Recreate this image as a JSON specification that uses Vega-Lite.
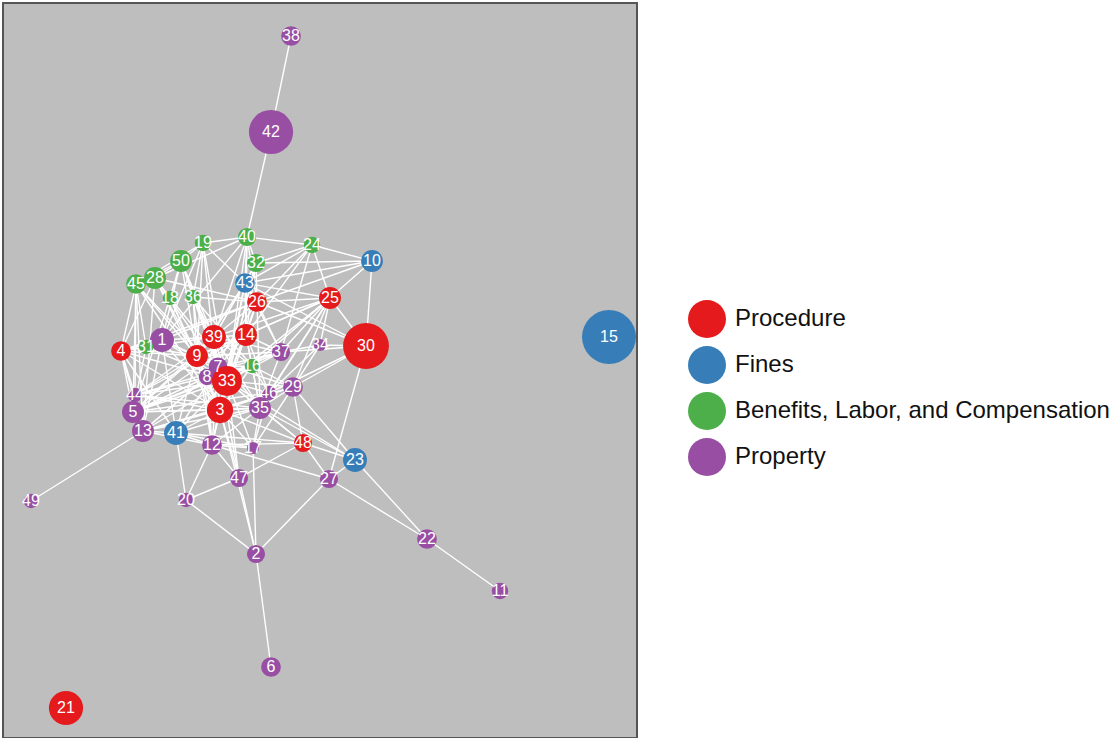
{
  "$schema": "https://vega.github.io/schema/vega-lite/v6.json",
  "width": 634,
  "height": 735,
  "padding": {"left": 3, "top": 3, "right": 0, "bottom": 0},
  "background": "white",
  "config": {
    "view": {"fill": "#bebebe", "stroke": "#555555", "strokeWidth": 2},
    "font": "Liberation Sans"
  },
  "datasets": {
    "nodes": [
      {"id": 1, "x": 162, "y": 340, "cases": 19, "area": "Property"},
      {"id": 2, "x": 256, "y": 554, "cases": 11, "area": "Property"},
      {"id": 3, "x": 220, "y": 410, "cases": 23, "area": "Procedure"},
      {"id": 4, "x": 121, "y": 351, "cases": 13, "area": "Procedure"},
      {"id": 5, "x": 133, "y": 412, "cases": 16, "area": "Property"},
      {"id": 6, "x": 271, "y": 667, "cases": 13, "area": "Property"},
      {"id": 7, "x": 218, "y": 367, "cases": 12, "area": "Property"},
      {"id": 8, "x": 207, "y": 377, "cases": 9, "area": "Property"},
      {"id": 9, "x": 197, "y": 356, "cases": 16, "area": "Procedure"},
      {"id": 10, "x": 372, "y": 261, "cases": 16, "area": "Fines"},
      {"id": 11, "x": 500, "y": 591, "cases": 9, "area": "Property"},
      {"id": 12, "x": 212, "y": 445, "cases": 13, "area": "Property"},
      {"id": 13, "x": 143, "y": 431, "cases": 16, "area": "Property"},
      {"id": 14, "x": 246, "y": 335, "cases": 16, "area": "Procedure"},
      {"id": 15, "x": 609, "y": 337, "cases": 97, "area": "Fines"},
      {"id": 16, "x": 252, "y": 366, "cases": 7, "area": "Benefits, Labor, and Compensation"},
      {"id": 17, "x": 253, "y": 448, "cases": 5, "area": "Property"},
      {"id": 18, "x": 170, "y": 298, "cases": 7, "area": "Benefits, Labor, and Compensation"},
      {"id": 19, "x": 203, "y": 243, "cases": 9, "area": "Benefits, Labor, and Compensation"},
      {"id": 20, "x": 186, "y": 500, "cases": 7, "area": "Property"},
      {"id": 21, "x": 66, "y": 708, "cases": 39, "area": "Procedure"},
      {"id": 22, "x": 427, "y": 539, "cases": 13, "area": "Property"},
      {"id": 23, "x": 355, "y": 460, "cases": 19, "area": "Fines"},
      {"id": 24, "x": 312, "y": 245, "cases": 9, "area": "Benefits, Labor, and Compensation"},
      {"id": 25, "x": 330, "y": 298, "cases": 16, "area": "Procedure"},
      {"id": 26, "x": 257, "y": 302, "cases": 13, "area": "Procedure"},
      {"id": 27, "x": 329, "y": 479, "cases": 11, "area": "Property"},
      {"id": 28, "x": 155, "y": 278, "cases": 16, "area": "Benefits, Labor, and Compensation"},
      {"id": 29, "x": 293, "y": 387, "cases": 13, "area": "Property"},
      {"id": 30, "x": 366, "y": 346, "cases": 70, "area": "Procedure"},
      {"id": 31, "x": 146, "y": 347, "cases": 7, "area": "Benefits, Labor, and Compensation"},
      {"id": 32, "x": 256, "y": 263, "cases": 11, "area": "Benefits, Labor, and Compensation"},
      {"id": 33, "x": 227, "y": 381, "cases": 30, "area": "Procedure"},
      {"id": 34, "x": 320, "y": 345, "cases": 5, "area": "Property"},
      {"id": 35, "x": 260, "y": 408, "cases": 16, "area": "Property"},
      {"id": 36, "x": 193, "y": 297, "cases": 7, "area": "Benefits, Labor, and Compensation"},
      {"id": 37, "x": 281, "y": 352, "cases": 11, "area": "Property"},
      {"id": 38, "x": 291, "y": 36, "cases": 13, "area": "Property"},
      {"id": 39, "x": 214, "y": 337, "cases": 19, "area": "Procedure"},
      {"id": 40, "x": 247, "y": 237, "cases": 11, "area": "Benefits, Labor, and Compensation"},
      {"id": 41, "x": 176, "y": 433, "cases": 19, "area": "Fines"},
      {"id": 42, "x": 271, "y": 132, "cases": 65, "area": "Property"},
      {"id": 43, "x": 245, "y": 283, "cases": 13, "area": "Fines"},
      {"id": 44, "x": 135, "y": 395, "cases": 7, "area": "Property"},
      {"id": 45, "x": 136, "y": 284, "cases": 13, "area": "Benefits, Labor, and Compensation"},
      {"id": 46, "x": 269, "y": 393, "cases": 7, "area": "Property"},
      {"id": 47, "x": 239, "y": 478, "cases": 11, "area": "Property"},
      {"id": 48, "x": 303, "y": 443, "cases": 11, "area": "Procedure"},
      {"id": 49, "x": 31, "y": 501, "cases": 7, "area": "Property"},
      {"id": 50, "x": 181, "y": 261, "cases": 16, "area": "Benefits, Labor, and Compensation"}
    ],
    "links": [
      {"s": 38, "t": 42}, {"s": 42, "t": 40}, {"s": 49, "t": 13}, {"s": 22, "t": 11},
      {"s": 22, "t": 23}, {"s": 22, "t": 27}, {"s": 2, "t": 6}, {"s": 2, "t": 20},
      {"s": 2, "t": 27}, {"s": 2, "t": 47}, {"s": 2, "t": 17}, {"s": 2, "t": 3},
      {"s": 20, "t": 47}, {"s": 20, "t": 12}, {"s": 20, "t": 41}, {"s": 47, "t": 48},
      {"s": 47, "t": 12}, {"s": 47, "t": 3}, {"s": 47, "t": 33}, {"s": 47, "t": 7},
      {"s": 27, "t": 23}, {"s": 27, "t": 30}, {"s": 27, "t": 12}, {"s": 27, "t": 48},
      {"s": 23, "t": 48}, {"s": 23, "t": 29}, {"s": 48, "t": 29}, {"s": 48, "t": 35},
      {"s": 48, "t": 3}, {"s": 48, "t": 33}, {"s": 48, "t": 12}, {"s": 30, "t": 10},
      {"s": 30, "t": 25}, {"s": 30, "t": 29}, {"s": 30, "t": 34}, {"s": 30, "t": 26},
      {"s": 30, "t": 37}, {"s": 30, "t": 43}, {"s": 10, "t": 24}, {"s": 10, "t": 25},
      {"s": 10, "t": 32}, {"s": 10, "t": 43}, {"s": 24, "t": 25}, {"s": 24, "t": 26},
      {"s": 24, "t": 40}, {"s": 24, "t": 43}, {"s": 24, "t": 32}, {"s": 24, "t": 14},
      {"s": 25, "t": 26}, {"s": 25, "t": 14}, {"s": 25, "t": 37}, {"s": 25, "t": 34},
      {"s": 25, "t": 35}, {"s": 25, "t": 33}, {"s": 25, "t": 39}, {"s": 25, "t": 29},
      {"s": 25, "t": 46}, {"s": 25, "t": 16}, {"s": 34, "t": 37}, {"s": 34, "t": 29},
      {"s": 34, "t": 46}, {"s": 29, "t": 35}, {"s": 29, "t": 33}, {"s": 29, "t": 16},
      {"s": 29, "t": 9}, {"s": 29, "t": 17}, {"s": 37, "t": 14}, {"s": 37, "t": 33},
      {"s": 37, "t": 39}, {"s": 37, "t": 9}, {"s": 37, "t": 5}, {"s": 37, "t": 44},
      {"s": 37, "t": 7}, {"s": 40, "t": 19}, {"s": 40, "t": 32}, {"s": 40, "t": 43},
      {"s": 40, "t": 26}, {"s": 40, "t": 14}, {"s": 40, "t": 1}, {"s": 40, "t": 33},
      {"s": 40, "t": 39}, {"s": 40, "t": 28}, {"s": 19, "t": 50}, {"s": 19, "t": 45},
      {"s": 19, "t": 36}, {"s": 19, "t": 33}, {"s": 19, "t": 3}, {"s": 19, "t": 9},
      {"s": 50, "t": 28}, {"s": 50, "t": 45}, {"s": 50, "t": 18}, {"s": 50, "t": 36},
      {"s": 50, "t": 33}, {"s": 50, "t": 1}, {"s": 28, "t": 45}, {"s": 28, "t": 18},
      {"s": 28, "t": 4}, {"s": 28, "t": 3}, {"s": 28, "t": 13}, {"s": 28, "t": 26},
      {"s": 45, "t": 4}, {"s": 45, "t": 44}, {"s": 45, "t": 5}, {"s": 45, "t": 31},
      {"s": 45, "t": 9}, {"s": 45, "t": 33}, {"s": 18, "t": 9}, {"s": 18, "t": 3},
      {"s": 18, "t": 5}, {"s": 18, "t": 35}, {"s": 36, "t": 7}, {"s": 36, "t": 33},
      {"s": 36, "t": 16}, {"s": 36, "t": 12}, {"s": 36, "t": 26}, {"s": 32, "t": 43},
      {"s": 32, "t": 26}, {"s": 32, "t": 39}, {"s": 32, "t": 33}, {"s": 32, "t": 3},
      {"s": 43, "t": 26}, {"s": 43, "t": 39}, {"s": 43, "t": 14}, {"s": 43, "t": 33},
      {"s": 43, "t": 9}, {"s": 43, "t": 12}, {"s": 26, "t": 14}, {"s": 26, "t": 39},
      {"s": 26, "t": 1}, {"s": 26, "t": 33}, {"s": 26, "t": 8}, {"s": 26, "t": 35},
      {"s": 26, "t": 4}, {"s": 4, "t": 31}, {"s": 4, "t": 1}, {"s": 4, "t": 44},
      {"s": 4, "t": 5}, {"s": 4, "t": 13}, {"s": 4, "t": 33}, {"s": 4, "t": 39},
      {"s": 4, "t": 3}, {"s": 31, "t": 1}, {"s": 31, "t": 5}, {"s": 31, "t": 9},
      {"s": 31, "t": 33}, {"s": 1, "t": 9}, {"s": 1, "t": 39}, {"s": 1, "t": 33},
      {"s": 1, "t": 7}, {"s": 1, "t": 3}, {"s": 1, "t": 13}, {"s": 1, "t": 41},
      {"s": 44, "t": 5}, {"s": 44, "t": 33}, {"s": 44, "t": 16}, {"s": 44, "t": 35},
      {"s": 44, "t": 9}, {"s": 5, "t": 13}, {"s": 5, "t": 33}, {"s": 5, "t": 3},
      {"s": 5, "t": 8}, {"s": 5, "t": 35}, {"s": 5, "t": 16}, {"s": 5, "t": 46},
      {"s": 13, "t": 41}, {"s": 13, "t": 33}, {"s": 13, "t": 3}, {"s": 13, "t": 7},
      {"s": 13, "t": 8}, {"s": 13, "t": 29}, {"s": 41, "t": 3}, {"s": 41, "t": 33},
      {"s": 41, "t": 12}, {"s": 41, "t": 9}, {"s": 41, "t": 35}, {"s": 41, "t": 17},
      {"s": 41, "t": 48}, {"s": 39, "t": 14}, {"s": 39, "t": 9}, {"s": 39, "t": 33},
      {"s": 39, "t": 7}, {"s": 39, "t": 3}, {"s": 39, "t": 16}, {"s": 39, "t": 35},
      {"s": 14, "t": 16}, {"s": 14, "t": 33}, {"s": 14, "t": 7}, {"s": 14, "t": 3},
      {"s": 14, "t": 35}, {"s": 14, "t": 46}, {"s": 9, "t": 7}, {"s": 9, "t": 8},
      {"s": 9, "t": 33}, {"s": 9, "t": 3}, {"s": 9, "t": 12}, {"s": 7, "t": 33},
      {"s": 7, "t": 8}, {"s": 7, "t": 16}, {"s": 8, "t": 33}, {"s": 8, "t": 3},
      {"s": 8, "t": 12}, {"s": 33, "t": 3}, {"s": 33, "t": 16}, {"s": 33, "t": 35},
      {"s": 33, "t": 46}, {"s": 33, "t": 12}, {"s": 33, "t": 17}, {"s": 16, "t": 35},
      {"s": 16, "t": 46}, {"s": 16, "t": 3}, {"s": 3, "t": 35}, {"s": 3, "t": 12},
      {"s": 3, "t": 17}, {"s": 35, "t": 46}, {"s": 35, "t": 17}, {"s": 35, "t": 12},
      {"s": 12, "t": 17}, {"s": 46, "t": 17},
      {"s": 19, "t": 43}, {"s": 19, "t": 1}, {"s": 50, "t": 9}, {"s": 50, "t": 39},
      {"s": 28, "t": 9}, {"s": 28, "t": 33}, {"s": 45, "t": 13}, {"s": 45, "t": 3},
      {"s": 4, "t": 9}, {"s": 4, "t": 41}, {"s": 44, "t": 3}, {"s": 44, "t": 39},
      {"s": 44, "t": 14}, {"s": 5, "t": 39}, {"s": 5, "t": 14}, {"s": 5, "t": 9},
      {"s": 13, "t": 35}, {"s": 13, "t": 12}, {"s": 41, "t": 7}, {"s": 3, "t": 46},
      {"s": 3, "t": 29}, {"s": 35, "t": 37}, {"s": 14, "t": 9}, {"s": 39, "t": 8},
      {"s": 12, "t": 7}, {"s": 36, "t": 39}, {"s": 36, "t": 9}, {"s": 32, "t": 14},
      {"s": 24, "t": 37}, {"s": 10, "t": 26}, {"s": 25, "t": 43}, {"s": 25, "t": 9},
      {"s": 26, "t": 37}, {"s": 43, "t": 37}, {"s": 30, "t": 46}, {"s": 23, "t": 35},
      {"s": 23, "t": 33}
    ]
  },
  "layer": [
    {
      "data": {"name": "links"},
      "transform": [
        {"lookup": "s", "from": {"data": {"name": "nodes"}, "key": "id", "fields": ["x", "y"]}, "as": ["x1", "y1"]},
        {"lookup": "t", "from": {"data": {"name": "nodes"}, "key": "id", "fields": ["x", "y"]}, "as": ["x2", "y2"]}
      ],
      "mark": {"type": "rule", "color": "white", "strokeWidth": 1.4, "opacity": 1},
      "encoding": {
        "x": {"field": "x1", "type": "quantitative", "scale": {"domain": [3, 637]}, "axis": null},
        "y": {"field": "y1", "type": "quantitative", "scale": {"domain": [3, 738], "reverse": true}, "axis": null},
        "x2": {"field": "x2"},
        "y2": {"field": "y2"}
      }
    },
    {
      "data": {"name": "nodes"},
      "mark": {"type": "circle", "opacity": 1, "strokeWidth": 0},
      "encoding": {
        "x": {"field": "x", "type": "quantitative", "scale": {"domain": [3, 637]}, "axis": null},
        "y": {"field": "y", "type": "quantitative", "scale": {"domain": [3, 738], "reverse": true}, "axis": null},
        "size": {"field": "cases", "type": "quantitative", "scale": {"type": "linear", "domain": [0, 100], "range": [0, 3000], "zero": true}, "legend": null},
        "color": {
          "field": "area",
          "type": "nominal",
          "scale": {
            "domain": ["Procedure", "Fines", "Benefits, Labor, and Compensation", "Property"],
            "range": ["#e41a1c", "#377eb8", "#4daf4a", "#984ea3"]
          },
          "legend": {
            "title": null,
            "orient": "none",
            "legendX": 685,
            "legendY": 297,
            "padding": 0,
            "symbolType": "circle",
            "symbolSize": 1444,
            "symbolStrokeWidth": 0,
            "symbolOpacity": 1,
            "labelFontSize": 24,
            "labelFont": "Liberation Sans",
            "labelColor": "#111111",
            "labelOffset": 9,
            "labelLimit": 600,
            "rowPadding": 8
          }
        }
      }
    },
    {
      "data": {"name": "nodes"},
      "mark": {"type": "text", "color": "white", "fontSize": 16, "font": "Liberation Sans", "align": "center", "baseline": "middle"},
      "encoding": {
        "x": {"field": "x", "type": "quantitative", "scale": {"domain": [3, 637]}, "axis": null},
        "y": {"field": "y", "type": "quantitative", "scale": {"domain": [3, 738], "reverse": true}, "axis": null},
        "text": {"field": "id", "type": "nominal"}
      }
    }
  ]
}
